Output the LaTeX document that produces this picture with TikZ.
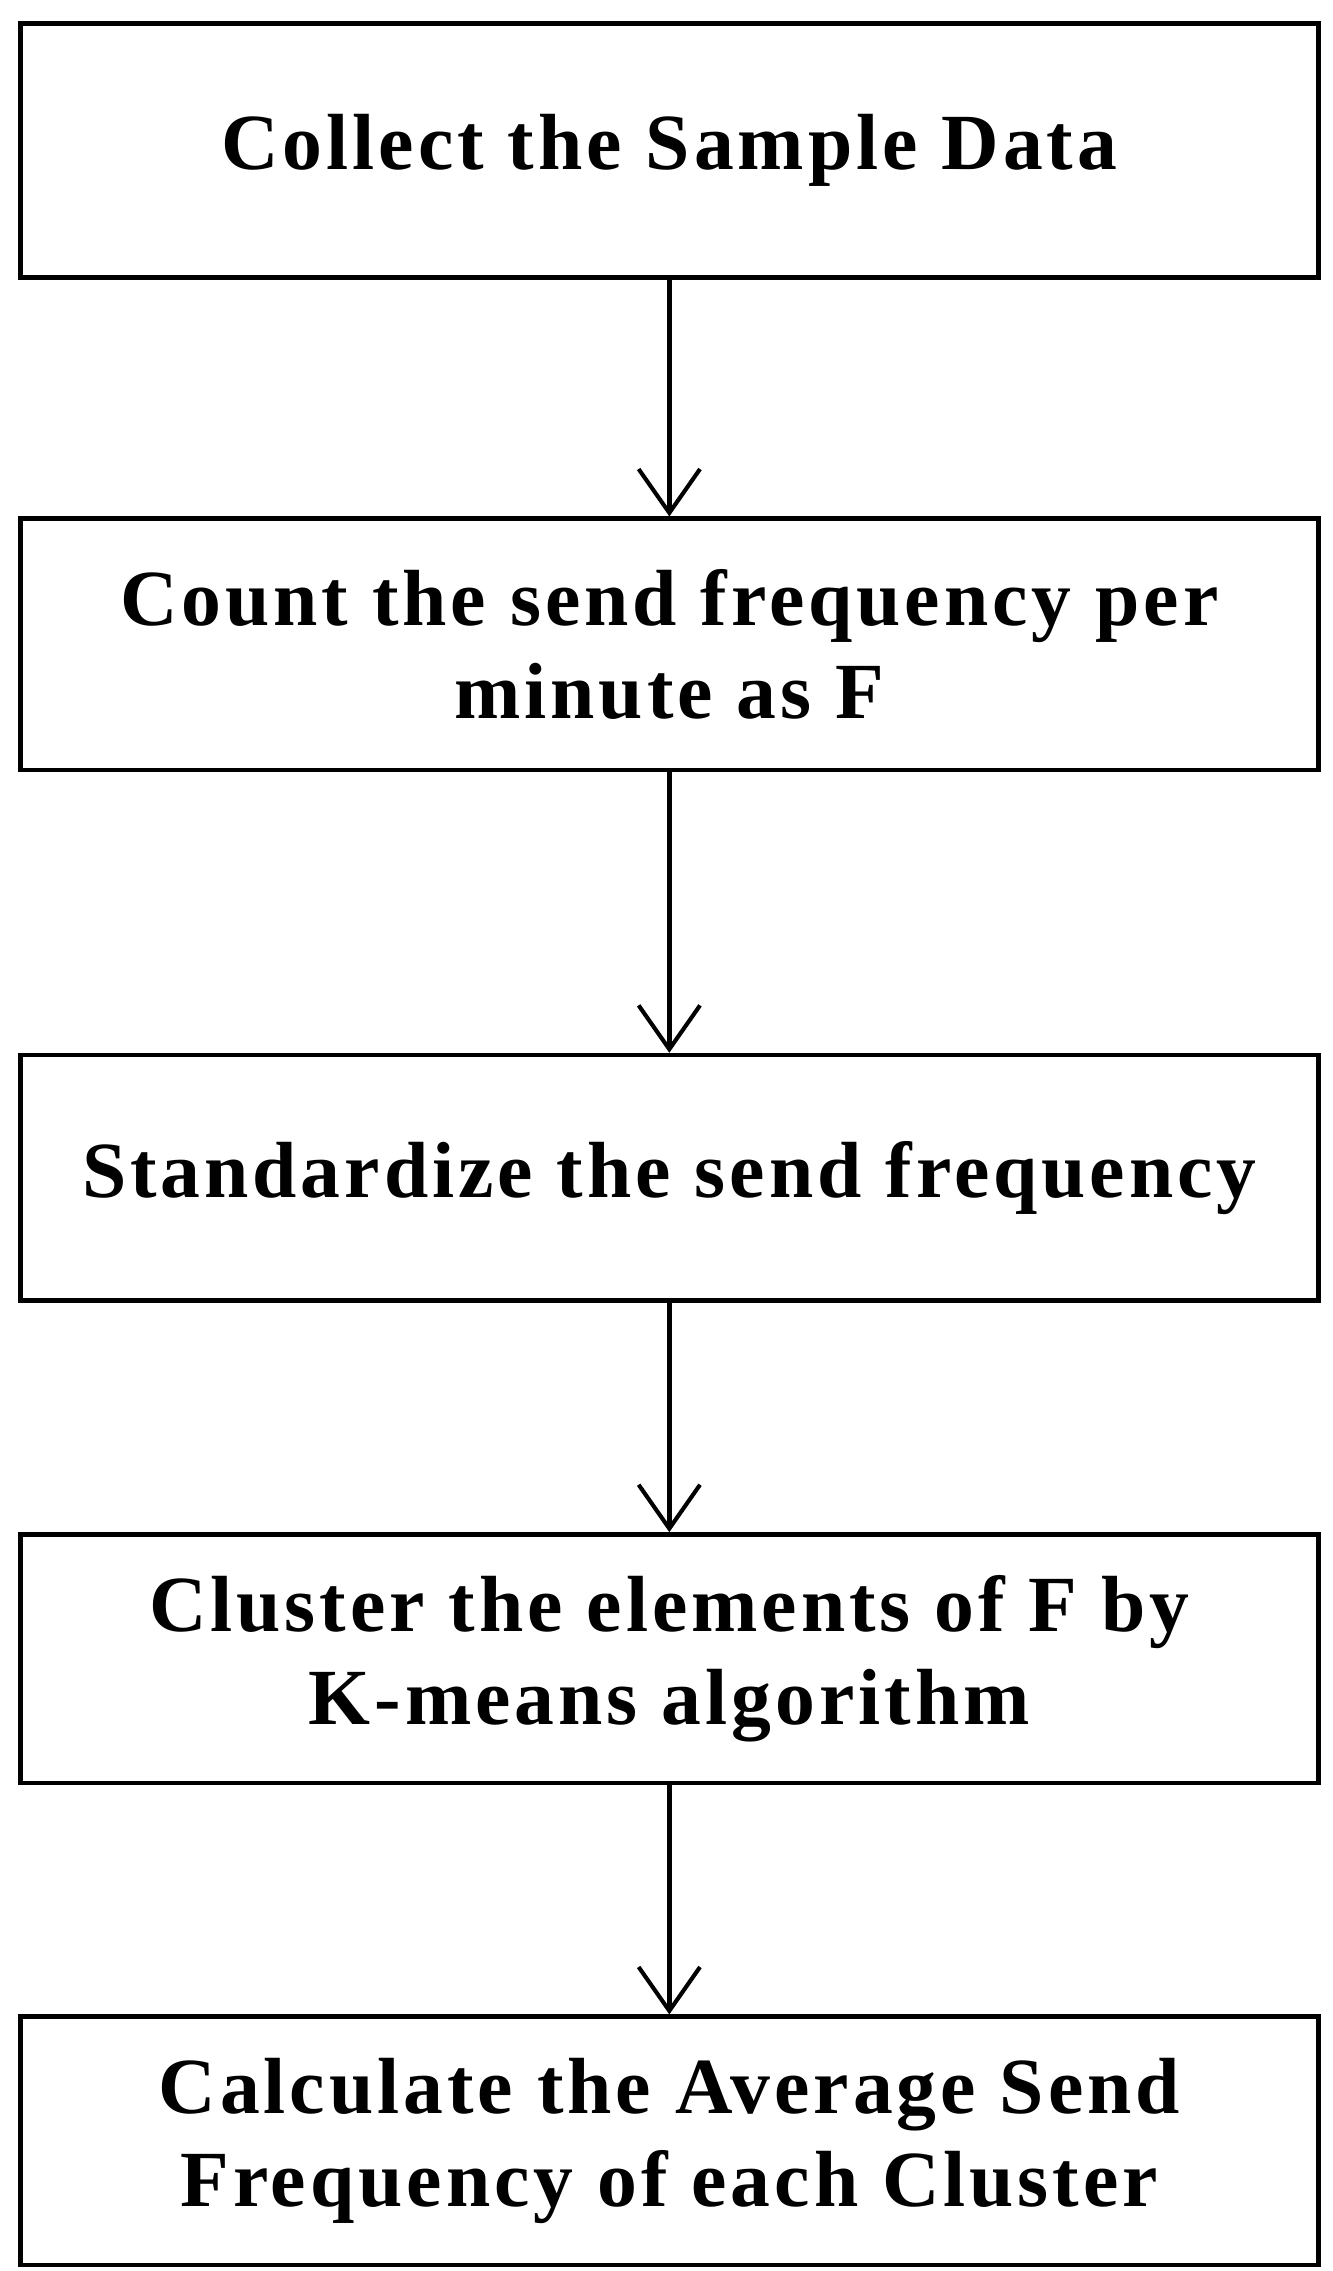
\documentclass[tikz,border=0pt]{standalone}
\usepackage{fontspec}
\setmainfont{Liberation Serif}
\newfontfamily\boxfont[LetterSpace=5]{Liberation Serif}
\usetikzlibrary{arrows.meta}

\tikzset{
	stepbox/.style={draw, line width=0.9pt, minimum width=8.88cm, align=center,
		font=\boxfont\fontsize{15.5}{18}\selectfont\bfseries},
	flow/.style={-{Straight Barb[length=0.3cm,width=0.42cm,line width=0.8pt]}, line width=0.9pt}
}

\begin{document}
\begin{tikzpicture}
	\useasboundingbox (0,0) rectangle (9.12,-15.54);
	\node[stepbox, minimum height=1.74cm] (collect) at (4.58,-1.03) {Collect the Sample Data};
	\node[stepbox, minimum height=1.72cm] (count) at (4.58,-4.41) {Count the send frequency per\\minute as F};
	\node[stepbox, minimum height=1.68cm] (stand) at (4.58,-8.06) {Standardize the send frequency};
	\node[stepbox, minimum height=1.70cm] (cluster) at (4.58,-11.35) {Cluster the elements of F by\\K-means algorithm};
	\node[stepbox, minimum height=1.70cm] (avg) at (4.58,-14.65) {Calculate the Average Send\\Frequency of each Cluster};
	% connectors
	\draw[flow] (collect) -- (count);
	\draw[flow] (count) -- (stand);
	\draw[flow] (stand) -- (cluster);
	\draw[flow] (cluster) -- (avg);
\end{tikzpicture}
\end{document}
